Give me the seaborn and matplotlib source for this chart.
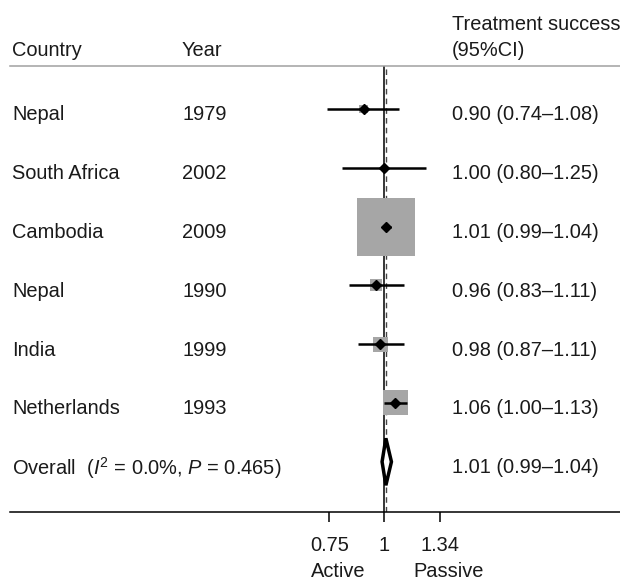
import numpy as np
import pandas as pd
import matplotlib
matplotlib.use("Agg")
import matplotlib.pyplot as plt
from matplotlib.patches import Polygon
from matplotlib.ticker import NullLocator
import seaborn as sns

# Study data
countries = ["Nepal", "South Africa", "Cambodia", "Nepal", "India", "Netherlands"]
years = ["1979", "2002", "2009", "1990", "1999", "1993"]
estimate = [0.90, 1.00, 1.01, 0.96, 0.98, 1.06]
ci_low = [0.74, 0.80, 0.99, 0.83, 0.87, 1.00]
ci_high = [1.08, 1.25, 1.04, 1.11, 1.11, 1.13]
weights = [1.8, 0.4, 75.5, 3.2, 5.1, 14.0]  # % weight, box area

overall_est = 1.01
overall_low = 0.99
overall_high = 1.04
overall_label = r"Overall  ($\mathit{I}^2$ = 0.0%, $\mathit{P}$ = 0.465)"

xticks = [0.75, 1, 1.34]
xtick_labels = ["0.75", "1", "1.34"]

sns.set_style("white")
plt.rcParams["font.family"] = ["Liberation Sans", "DejaVu Sans"]
plt.rcParams["mathtext.fontset"] = "custom"
plt.rcParams["mathtext.rm"] = "Liberation Sans"
plt.rcParams["mathtext.it"] = "Liberation Sans:italic"

df = pd.DataFrame({
    "country": countries,
    "year": years,
    "est": estimate,
    "lo": ci_low,
    "hi": ci_high,
    "weight": weights,
})
df["row"] = np.arange(len(df))
overall_row = len(df)

txt_color = "#1a1a1a"
fs = 14.4

fig = plt.figure(figsize=(6.2, 5.82), dpi=100)
ax = fig.add_axes([10 / 620, 70 / 582, 610 / 620, 446 / 582])
ax.set_xscale("log")
ax.set_xlim(0.1397, 3.463)
ax.set_ylim(6.854, -0.731)

# reference lines
ax.axvline(1, color="black", lw=1.1, zorder=1)
ax.axvline(overall_est, color="#444444", lw=1.0, ls=(0, (4, 3)), zorder=1)

# weight boxes
sq = 23.1
sns.scatterplot(data=df, x="est", y="row", size="weight",
                sizes=(sq * min(weights), sq * max(weights)),
                marker="s", color="#a6a6a6", linewidth=0, legend=False,
                ax=ax, zorder=2)

# confidence intervals and point estimates
ax.hlines(df["row"], df["lo"], df["hi"], color="black", lw=1.8, zorder=3)
ax.plot(df["est"], df["row"], "D", color="black", ms=5.5, zorder=4)

# overall diamond
h = 0.4
diamond = Polygon([(overall_low, overall_row), (overall_est, overall_row - h),
                   (overall_high, overall_row), (overall_est, overall_row + h)],
                  closed=True, facecolor="white", edgecolor="black", lw=2.5,
                  zorder=3)
ax.add_patch(diamond)

# axes styling
for side in ["left", "right"]:
    ax.spines[side].set_visible(False)
ax.spines["top"].set_color("#a0a0a0")
ax.spines["top"].set_linewidth(1.1)
ax.spines["bottom"].set_color("black")
ax.spines["bottom"].set_linewidth(1.1)
ax.set_yticks([])
ax.set_xticks(xticks)
ax.set_xticklabels(xtick_labels)
ax.xaxis.set_minor_locator(NullLocator())
ax.tick_params(axis="x", direction="out", length=7.5, width=1.1,
               pad=10, labelsize=fs, colors="black", labelcolor=txt_color,
               bottom=True)
ax.set_xlabel("")
ax.set_ylabel("")

# table text
tr = ax.get_yaxis_transform()
x_country = 2 / 610
x_year = 172 / 610
x_res = 442 / 610
dy = 0.1

ax.text(x_country, -1.0, "Country", transform=tr, fontsize=fs,
        color=txt_color, va="center", ha="left", clip_on=False)
ax.text(x_year, -1.0, "Year", transform=tr, fontsize=fs,
        color=txt_color, va="center", ha="left", clip_on=False)
ax.text(x_res, -1.43, "Treatment success", transform=tr, fontsize=fs,
        color=txt_color, va="center", ha="left", clip_on=False)
ax.text(x_res, -1.0, "(95%CI)", transform=tr, fontsize=fs,
        color=txt_color, va="center", ha="left", clip_on=False)

for _, r in df.iterrows():
    y = r["row"] + dy
    ax.text(x_country, y, r["country"], transform=tr, fontsize=fs,
            color=txt_color, va="center", ha="left")
    ax.text(x_year, y, r["year"], transform=tr, fontsize=fs,
            color=txt_color, va="center", ha="left")
    res = f"{r['est']:.2f} ({r['lo']:.2f}\u2013{r['hi']:.2f})"
    ax.text(x_res, y, res, transform=tr, fontsize=fs,
            color=txt_color, va="center", ha="left")

ax.text(x_country, overall_row + dy, overall_label, transform=tr, fontsize=fs,
        color=txt_color, va="center", ha="left")
ax.text(x_res, overall_row + dy,
        f"{overall_est:.2f} ({overall_low:.2f}\u2013{overall_high:.2f})",
        transform=tr, fontsize=fs, color=txt_color, va="center", ha="left")

# direction labels
ax.text(328 / 610, -0.134, "Active", transform=ax.transAxes, fontsize=fs,
        color=txt_color, va="center", ha="center", clip_on=False)
ax.text(439 / 610, -0.134, "Passive", transform=ax.transAxes, fontsize=fs,
        color=txt_color, va="center", ha="center", clip_on=False)

fig.savefig("out.png", dpi=100)
